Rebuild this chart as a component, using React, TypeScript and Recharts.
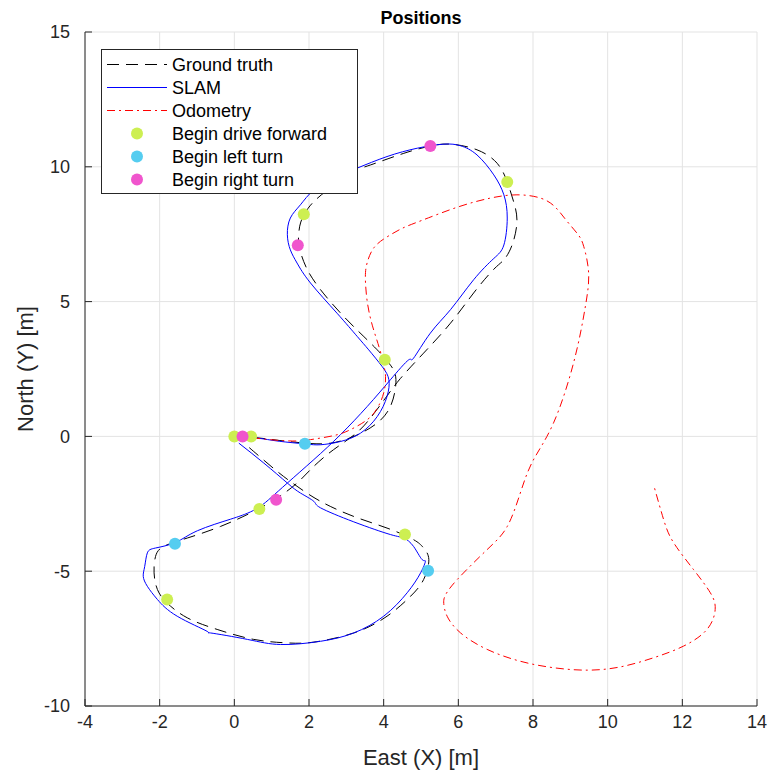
import React from 'react';
import { ScatterChart, Scatter, XAxis, YAxis, CartesianGrid } from 'recharts';

// ---------- data (metres) ----------
const groundTruth: [number, number][] = [
  [0, 0], [0.6, -0.05], [1.2, -0.15], [1.9, -0.25], [2.58, -0.25], [3.25, 0.03], [3.83, 0.5],
  [4.18, 1.11], [4.32, 1.85], [4.3, 2.35], [4.15, 2.7], [3.91, 3.09], [3.56, 3.58], [2.93, 4.45],
  [2.31, 5.44], [1.95, 6.2], [1.78, 6.8], [1.72, 7.2], [1.73, 7.6], [1.78, 7.95], [1.9, 8.3],
  [2.13, 8.71], [2.6, 9.25], [3.2, 9.82], [3.65, 10.07], [4.54, 10.5], [5.25, 10.77], [5.79, 10.84],
  [6.5, 10.63], [7.04, 10.13], [7.31, 9.44], [7.48, 8.71], [7.57, 7.97], [7.44, 7.1], [7.22, 6.55],
  [6.95, 6.2], [6.41, 5.32], [5.79, 4.2], [5.07, 3.09], [4.45, 2.15], [4.09, 1.5], [3.74, 0.85],
  [3.29, 0.15], [2.66, -0.49], [2.1, -1.15], [1.68, -1.73], [1.15, -2.28], [0.52, -2.78],
  [-0.37, -3.34], [-1.26, -3.77], [-1.89, -4.08], [-2.11, -4.45], [-2.15, -5.06], [-2.06, -5.68],
  [-1.8, -6.18], [-1.26, -6.73], [-0.46, -7.16], [0.52, -7.53], [1.42, -7.66], [2.13, -7.63],
  [3.2, -7.29], [4.09, -6.67], [4.72, -5.93], [5.07, -5.31], [5.21, -4.57], [5.07, -4.14],
  [4.8, -3.83], [4.09, -3.4], [3.2, -2.97], [2.31, -2.41], [1.68, -1.85], [1.15, -1.3],
  [0.52, -0.56], [0.3, -0.3],
];

const slam: [number, number][] = [
  [0, 0], [0.6, -0.06], [1.2, -0.18], [1.9, -0.28], [2.31, -0.31], [2.84, -0.19], [3.38, 0.12],
  [3.83, 0.74], [4.09, 1.48], [4.14, 2.1], [3.96, 2.59], [3.6, 3.21], [3.29, 3.71], [2.75, 4.57],
  [2.04, 5.69], [1.68, 6.43], [1.5, 6.92], [1.42, 7.48], [1.5, 8.1], [1.77, 8.59], [2.13, 9.14],
  [2.7, 9.6], [3.29, 9.95], [4.09, 10.38], [4.9, 10.69], [5.61, 10.84], [6.06, 10.78], [6.5, 10.44],
  [6.95, 9.7], [7.22, 8.96], [7.31, 8.1], [7.22, 7.1], [6.95, 6.6], [6.41, 5.81], [5.79, 4.7],
  [5.25, 3.83], [4.8, 2.9], [4.67, 2.84], [4.18, 2.1], [3.56, 1.11], [2.84, 0.06], [2.13, -0.86],
  [1.42, -1.73], [1.0, -2.25], [0.67, -2.62], [0.35, -2.85], [-0.1, -3.07], [-0.99, -3.5],
  [-1.57, -3.93], [-2.11, -4.14], [-2.33, -4.32], [-2.4, -4.82], [-2.44, -5.19], [-2.33, -5.56],
  [-2.06, -6.05], [-1.53, -6.67], [-0.73, -7.23], [-0.64, -7.29], [0.35, -7.53], [1.24, -7.72],
  [2.31, -7.6], [3.2, -7.29], [4.0, -6.67], [4.63, -5.8], [4.99, -5.06], [5.12, -4.63],
  [5.03, -4.57], [4.8, -4.08], [4.54, -3.77], [4.18, -3.64], [3.2, -3.17], [2.31, -2.65],
  [2.13, -2.41], [1.77, -2.1], [1.42, -1.73], [0.79, -0.99], [0.12, -0.25],
];

const odometry: [number, number][] = [
  [0, 0], [0.6, -0.07], [1.2, -0.15], [1.7, -0.17], [2.04, -0.12], [2.66, 0.03], [3.11, 0.25],
  [3.56, 0.62], [3.83, 1.05], [4.0, 1.61], [4.05, 2.22], [3.99, 2.72], [3.88, 3.3], [3.7, 4.1],
  [3.56, 5.0], [3.51, 5.9], [3.56, 6.45], [3.74, 7.0], [4.09, 7.4], [4.5, 7.72], [5.0, 8.0],
  [5.97, 8.5], [6.86, 8.84], [7.57, 8.96], [8.2, 8.84], [8.6, 8.5], [8.9, 8.0], [9.2, 7.5],
  [9.36, 7.04], [9.49, 6.06], [9.4, 4.8], [9.1, 2.8], [8.55, 0.5], [8.0, -0.9], [7.66, -2.1],
  [7.31, -3.34], [6.77, -4.2], [5.97, -5.31], [5.65, -5.9], [5.61, -6.2], [5.7, -6.67],
  [6.06, -7.29], [6.77, -7.9], [7.66, -8.34], [8.55, -8.58], [9.45, -8.67], [10.34, -8.55],
  [11.23, -8.21], [12.03, -7.78], [12.66, -7.16], [12.88, -6.42], [12.75, -5.8], [12.3, -4.94],
  [11.77, -3.95], [11.5, -3.09], [11.23, -1.79],
];

const driveForward: [number, number][] = [
  [0, 0], [0.45, 0], [4.03, 2.84], [1.86, 8.24], [7.31, 9.44], [0.67, -2.69], [-1.8, -6.05], [4.57, -3.64],
];
const leftTurn: [number, number][] = [[1.89, -0.27], [-1.59, -3.98], [5.19, -4.98]];
const rightTurn: [number, number][] = [[0.22, 0], [1.7, 7.09], [5.25, 10.77], [1.12, -2.35]];

const xTicks = [-4, -2, 0, 2, 4, 6, 8, 10, 12, 14];
const yTicks = [-10, -5, 0, 5, 10, 15];
const xDomain: [number, number] = [-4, 14];
const yDomain: [number, number] = [-10, 15];

const seriesNames = ['Ground truth', 'SLAM', 'Odometry', 'Begin drive forward', 'Begin left turn', 'Begin right turn'];
const title = 'Positions';
const xLabel = 'East (X) [m]';
const yLabel = 'North (Y) [m]';

// ---------- styles ----------
const W = 773;
const H = 775;
const MARGIN = { top: 32, right: 16, bottom: 39, left: 25 };
const Y_AXIS_W = 60;
const X_AXIS_H = 30;
const TICK_MARGIN = 8;
const TICK_LEN = 7;
const AXIS_COLOR = '#262626';
const GRID_COLOR = '#e3e3e3';
const FONT = '"Liberation Sans", Arial, Helvetica, sans-serif';
const TICK_FS = 18;
const LEGEND_FS = 18;
const LABEL_FS = 22;
const TITLE_FS = 18;
const GT_DASH = '12 7';
const ODO_DASH = '8 4 2 4';
const C_FWD = '#cdef52';
const C_LEFT = '#55cdf0';
const C_RIGHT = '#f055cd';
const MARKER_R = 6;

const toXY = (pts: [number, number][]) => pts.map(([x, y]) => ({ x, y }));

const noShape = () => <g />;
const dot = (color: string) => (props: any) => (
  <circle cx={props.cx} cy={props.cy} r={MARKER_R} fill={color} stroke="none" />
);

const XTick = (props: any) => {
  const { x, y, payload } = props;
  const axisY = y - TICK_MARGIN;
  return (
    <g>
      <line x1={x} x2={x} y1={axisY} y2={axisY - TICK_LEN} stroke={AXIS_COLOR} strokeWidth={1} />
      <text x={x} y={axisY + 9} dy="0.71em" textAnchor="middle" fontSize={TICK_FS} fill={AXIS_COLOR} fontFamily={FONT}>
        {String(payload.value)}
      </text>
    </g>
  );
};

const YTick = (props: any) => {
  const { x, y, payload } = props;
  const axisX = x + TICK_MARGIN;
  return (
    <g>
      <line x1={axisX} x2={axisX + TICK_LEN} y1={y} y2={y} stroke={AXIS_COLOR} strokeWidth={1} />
      <text x={axisX - 15} y={y} dy="0.355em" textAnchor="end" fontSize={TICK_FS} fill={AXIS_COLOR} fontFamily={FONT}>
        {String(payload.value)}
      </text>
    </g>
  );
};

const plotLeft = MARGIN.left + Y_AXIS_W;
const plotRight = W - MARGIN.right;
const plotTop = MARGIN.top;
const plotBottom = H - MARGIN.bottom - X_AXIS_H;
const plotCx = (plotLeft + plotRight) / 2;
const plotCy = (plotTop + plotBottom) / 2;

const Legend = () => {
  const lx = 101, ly = 49, lw = 256, lh = 144;
  const rowH = 23;
  const firstRow = ly + 15.5;
  const sx1 = lx + 6, sx2 = lx + 66, mx = lx + 36, tx = lx + 71;
  const rows = seriesNames.map((name, i) => {
    const cy = firstRow + i * rowH;
    let sample: React.ReactNode = null;
    if (i === 0) sample = <line x1={sx1} x2={sx2} y1={cy} y2={cy} stroke="#000" strokeDasharray={GT_DASH} />;
    if (i === 1) sample = <line x1={sx1} x2={sx2} y1={cy} y2={cy} stroke="#0000ff" />;
    if (i === 2) sample = <line x1={sx1} x2={sx2} y1={cy} y2={cy} stroke="#ff0000" strokeDasharray={ODO_DASH} />;
    if (i === 3) sample = <circle cx={mx} cy={cy} r={MARKER_R} fill={C_FWD} />;
    if (i === 4) sample = <circle cx={mx} cy={cy} r={MARKER_R} fill={C_LEFT} />;
    if (i === 5) sample = <circle cx={mx} cy={cy} r={MARKER_R} fill={C_RIGHT} />;
    return (
      <g key={name}>
        {sample}
        <text x={tx} y={cy} dy="0.355em" fontSize={LEGEND_FS} fill="#000" fontFamily={FONT}>{name}</text>
      </g>
    );
  });
  return (
    <g>
      <rect x={lx + 0.5} y={ly + 0.5} width={lw} height={lh} fill="#fff" stroke={AXIS_COLOR} strokeWidth={1} />
      {rows}
    </g>
  );
};

export default function App() {
  return (
    <div style={{ position: 'absolute', left: 0, top: 0, width: W, height: H, background: '#fff', fontFamily: FONT }}>
      <ScatterChart width={W} height={H} margin={MARGIN}>
        <CartesianGrid stroke={GRID_COLOR} strokeWidth={1} />
        <XAxis
          type="number"
          dataKey="x"
          domain={xDomain}
          ticks={xTicks}
          interval={0}
          allowDataOverflow
          height={X_AXIS_H}
          tickSize={0}
          tickLine={false}
          tickMargin={TICK_MARGIN}
          tick={<XTick />}
          stroke={AXIS_COLOR}
        />
        <YAxis
          type="number"
          dataKey="y"
          domain={yDomain}
          ticks={yTicks}
          interval={0}
          allowDataOverflow
          width={Y_AXIS_W}
          tickSize={0}
          tickLine={false}
          tickMargin={TICK_MARGIN}
          tick={<YTick />}
          stroke={AXIS_COLOR}
        />
        <Scatter
          name={seriesNames[0]}
          data={toXY(groundTruth)}
          line={{ stroke: '#000000', strokeWidth: 1, strokeDasharray: GT_DASH }}
          lineType="joint"
          lineJointType="natural"
          shape={noShape}
          isAnimationActive={false}
        />
        <Scatter
          name={seriesNames[1]}
          data={toXY(slam)}
          line={{ stroke: '#0000ff', strokeWidth: 1 }}
          lineType="joint"
          lineJointType="natural"
          shape={noShape}
          isAnimationActive={false}
        />
        <Scatter
          name={seriesNames[2]}
          data={toXY(odometry)}
          line={{ stroke: '#ff0000', strokeWidth: 1, strokeDasharray: ODO_DASH }}
          lineType="joint"
          lineJointType="natural"
          shape={noShape}
          isAnimationActive={false}
        />
        <Scatter name={seriesNames[3]} data={toXY(driveForward)} shape={dot(C_FWD)} isAnimationActive={false} />
        <Scatter name={seriesNames[4]} data={toXY(leftTurn)} shape={dot(C_LEFT)} isAnimationActive={false} />
        <Scatter name={seriesNames[5]} data={toXY(rightTurn)} shape={dot(C_RIGHT)} isAnimationActive={false} />
      </ScatterChart>
      <svg width={W} height={H} style={{ position: 'absolute', left: 0, top: 0, pointerEvents: 'none' }}>
        <text x={plotCx} y={24} textAnchor="middle" fontSize={TITLE_FS} fontWeight="bold" fill="#000" fontFamily={FONT}>{title}</text>
        <text x={plotCx} y={765} textAnchor="middle" fontSize={LABEL_FS} fill={AXIS_COLOR} fontFamily={FONT}>{xLabel}</text>
        <text
          x={0}
          y={0}
          transform={`translate(33, ${plotCy}) rotate(-90)`}
          textAnchor="middle"
          fontSize={LABEL_FS}
          fill={AXIS_COLOR}
          fontFamily={FONT}
        >
          {yLabel}
        </text>
        <Legend />
      </svg>
    </div>
  );
}
